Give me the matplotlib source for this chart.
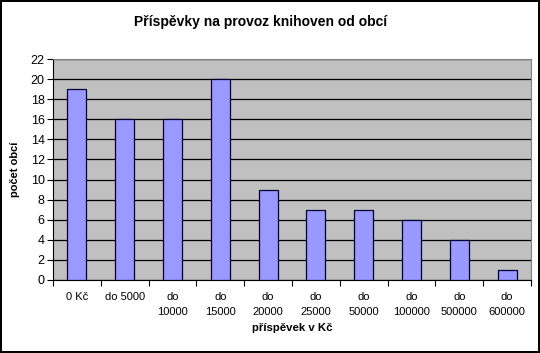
import matplotlib.pyplot as plt
import numpy as np

plt.rcParams['font.family'] = ['Liberation Sans', 'DejaVu Sans']

kategorie = ['0 Kč', 'do 5000', 'do\n10000', 'do\n15000', 'do\n20000', 'do\n25000',
             'do\n50000', 'do\n100000', 'do\n500000', 'do\n600000']
pocet = [19, 16, 16, 20, 9, 7, 7, 6, 4, 1]

fig = plt.figure(figsize=(5.4, 3.53), dpi=100)
fig.patch.set_facecolor('white')
fig.patch.set_edgecolor('black')
fig.patch.set_linewidth(1.5)

ax = fig.add_axes([53/540, 1-280/353, (531-53)/540, (280-59)/353])
ax.set_facecolor('#c0c0c0')

x = np.arange(len(pocet))
ax.bar(x, pocet, width=0.4, color='#9999ff', edgecolor='#000033', linewidth=0.9, zorder=3)

ax.set_xlim(-0.5, len(pocet) - 0.5)
ax.set_ylim(0, 22)
ax.set_yticks(np.arange(0, 23, 2))
ax.yaxis.grid(True, color='black', linewidth=0.9, zorder=1)
ax.set_axisbelow(True)

ax.set_xticks(np.arange(-0.5, len(pocet)), minor=False)
ax.set_xticklabels([])
ax.set_xticks(x, minor=True)
ax.set_xticklabels(kategorie, minor=True, fontsize=8, va='top', linespacing=1.6)
ax.tick_params(axis='x', which='minor', length=0, pad=9)
ax.tick_params(axis='x', which='major', length=4, direction='out', color='black')
ax.tick_params(axis='y', length=4, direction='out', labelsize=9, pad=2)

for s in ['top', 'right']:
    ax.spines[s].set_color('#808080')
ax.spines['left'].set_color('black')
ax.spines['bottom'].set_color('black')

fig.text(261/540, 1-22/353, 'Příspěvky na provoz knihoven od obcí', fontsize=10,
         fontweight='bold', ha='center', va='center')
ax.set_ylabel('počet obcí', fontsize=8, fontweight='bold', labelpad=12)
ax.yaxis.set_label_coords(-33/478, 0.5)
ax.set_xlabel('příspěvek v Kč', fontsize=8.2, fontweight='bold', labelpad=4)

fig.savefig('out.png', dpi=100)
